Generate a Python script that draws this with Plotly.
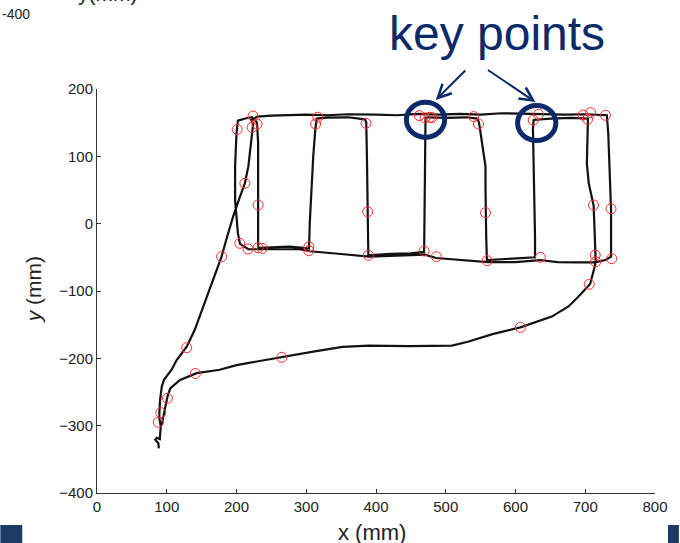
import plotly.graph_objects as go

# Recorded trajectory of the end effector (mm)
path_x = [
    88.6, 88.0, 83.5, 86.0, 90.0, 90.5, 91.4, 89.5, 89.4, 90.4, 92.9, 96.0, 100.0, 107.0,
    114.0, 121.0, 128.6, 140.0, 150.0, 157.0, 165.0, 171.4, 178.6, 185.0, 195.0, 205.0,
    212.0, 217.0, 220.0, 223.0, 224.0, 221.0,
    230.0, 250.0, 270.0, 300.0, 330.0, 360.0, 400.0, 430.0, 460.0, 490.0, 520.0, 550.0,
    580.0, 610.0, 640.0, 670.0, 700.0, 731.0,
    733.0, 734.0, 736.0, 737.0, 737.0, 737.0,
    729.0, 715.0, 690.0, 660.0, 635.0, 600.0, 560.0, 520.0, 486.0, 470.0, 430.0, 390.0,
    350.0, 305.0, 290.0, 260.0, 231.0, 217.0, 205.0,
    202.0, 198.0, 198.0, 200.0, 202.0,
    214.0, 222.0, 229.0,
    229.5, 231.0, 231.0, 231.0, 231.5, 231.0,
    250.0, 276.0, 295.0, 304.0,
    305.0, 307.0, 310.0, 313.0, 315.0,
    330.0, 360.0, 384.0, 386.0,
    387.0, 388.0, 388.0, 389.0, 389.0,
    420.0, 450.0, 469.0,
    469.5, 470.0, 470.5, 471.0, 475.0,
    500.0, 530.0, 545.0, 547.6,
    552.0, 557.0, 557.0, 557.0, 558.0, 559.0,
    590.0, 628.0,
    628.0, 627.0, 626.0, 625.0, 626.0,
    650.0, 680.0, 704.0,
    703.5, 702.3, 705.0, 712.0, 713.0, 714.0, 714.5, 715.0,
    713.0, 707.0, 690.0, 676.0, 652.0, 607.0, 567.0, 533.0, 509.0, 448.0, 390.0, 352.0,
    310.0, 265.0, 233.0, 200.0, 176.0, 143.0, 119.0, 105.0, 101.0, 97.6, 95.0, 92.9,
]
path_y = [
    -333.7, -326.0, -321.0, -318.0, -320.0, -310.0, -301.0, -290.0, -281.0, -262.0, -242.0,
    -232.0, -227.0, -217.0, -203.0, -193.0, -182.7, -158.0, -130.0, -108.5, -85.0, -68.8,
    -49.0, -25.0, 10.0, 40.0, 60.0, 85.0, 110.0, 134.0, 149.0, 154.0,
    159.0, 160.5, 161.5, 162.0, 161.0, 162.5, 162.0, 161.0, 163.0, 162.0, 163.0, 162.0,
    164.0, 163.0, 162.5, 162.0, 162.5, 161.0,
    134.0, 100.0, 60.0, 20.0, -20.0, -49.0,
    -54.0, -57.0, -57.5, -57.0, -54.0, -57.0, -57.0, -54.0, -51.0, -46.0, -47.0, -49.0,
    -45.0, -41.0, -38.0, -38.0, -38.0, -38.0, -30.0,
    -14.0, 35.0, 85.0, 134.0, 153.0,
    156.5, 158.0, 151.0,
    148.0, 120.0, 60.0, 28.0, 0.0, -36.0,
    -35.0, -34.0, -36.0, -37.0,
    0.0, 50.0, 100.0, 140.0, 156.0,
    157.5, 158.0, 155.0, 151.0,
    100.0, 50.0, 18.0, -20.0, -47.0,
    -45.0, -44.0, -42.0,
    0.0, 60.0, 120.0, 157.0, 158.0,
    157.0, 158.0, 156.0, 151.0,
    120.0, 85.0, 50.0, 16.0, -20.0, -54.0,
    -52.0, -50.0,
    -20.0, 50.0, 100.0, 140.0, 154.0,
    156.0, 157.0, 156.0,
    140.0, 89.6, 60.0, 27.0, 0.0, -30.0, -49.0, -57.0,
    -66.0, -89.6, -108.5, -123.0, -138.0, -154.0, -164.0, -175.0, -181.0, -182.0, -181.0,
    -183.0, -190.0, -198.5, -203.5, -210.0, -217.0, -222.0, -232.0, -244.5, -257.0, -272.0,
    -287.0, -299.0,
]

# Detected key points (mm)
key_x = [
    223.7, 201.0, 222.4, 229.4, 316.6, 313.3, 385.7, 212.0, 231.0, 388.0, 204.7, 216.6,
    230.9, 237.0, 303.7, 303.7, 389.0, 178.6, 462.0, 470.4, 477.0, 480.0, 540.0, 547.0,
    557.0, 469.0, 486.6, 559.4, 633.0, 625.4, 635.7, 697.0, 707.6, 703.3, 729.0, 711.9,
    737.0, 714.3, 715.0, 738.0, 705.7, 607.0, 265.0, 128.6, 141.0, 100.9, 91.4, 88.0,
]
key_y = [
    159.9, 140.0, 143.0, 148.0, 158.0, 148.0, 149.0, 60.0, 27.7, 17.8, -29.2, -37.6,
    -35.7, -36.6, -34.2, -40.2, -47.0, -49.0, 160.5, 157.1, 158.0, 157.6, 159.0, 148.0,
    16.3, -40.6, -49.0, -55.0, 162.4, 153.9, -50.0, 161.4, 164.8, 155.0, 160.9, 27.7,
    22.2, -46.6, -56.5, -52.0, -90.0, -154.0, -198.5, -184.2, -222.5, -259.4, -280.8, -295.0,
]

x_ticks = [0, 100, 200, 300, 400, 500, 600, 700, 800]
y_ticks = [-400, -300, -200, -100, 0, 100, 200]

W, H = 680, 543
L, R, T, B = 97, 23, 89, 50
PW, PH = W - L - R, H - T - B
NAVY = "#0c2a6a"
FONT = "Liberation Sans, Arial, Helvetica, sans-serif"


def px(x):
    return (x - L) / PW


def py(y):
    return (H - B - y) / PH


fig = go.Figure()
fig.add_trace(go.Scatter(
    x=path_x, y=path_y, mode="lines",
    line=dict(color="#111111", width=2.2),
    showlegend=False, hoverinfo="skip",
))
fig.add_trace(go.Scatter(
    x=key_x, y=key_y, mode="markers",
    marker=dict(symbol="circle-open", size=10, color="rgb(255,45,45)",
                line=dict(width=1, color="rgb(255,45,45)")),
    showlegend=False,
))

axis_common = dict(
    showgrid=False, zeroline=False, showline=True, linecolor="#333333", linewidth=1,
    ticks="inside", ticklen=4, tickcolor="#333333", mirror=False,
    tickfont=dict(family=FONT, size=15, color="#222222"),
)
fig.update_xaxes(range=[0, 800], tickvals=x_ticks, **axis_common)
fig.update_yaxes(range=[-400, 200], tickvals=y_ticks, **axis_common)


def label(text, x, y, size, color="#222222", xanchor="center", yanchor="middle", **kw):
    return dict(text=text, x=px(x), y=py(y), xref="paper", yref="paper",
                xanchor=xanchor, yanchor=yanchor, showarrow=False,
                font=dict(family=FONT, size=size, color=color), **kw)


annotations = [
    label("x (mm)", 373, 532, 22),
    label("<i>y</i> (mm)", 33, 290, 21, textangle=-90),
    label("-400", 0, 14, 14, xanchor="left"),
    label("y(mm)", 76, 7, 21, xanchor="left", yanchor="bottom"),
    label("key points", 498, 33, 48, color=NAVY),
    dict(text="", x=px(437), y=py(100), xref="paper", yref="paper",
         ax=31, ay=-31, showarrow=True, arrowhead=5, arrowsize=1.3, arrowwidth=2,
         arrowcolor=NAVY),
    dict(text="", x=px(537), y=py(102), xref="paper", yref="paper",
         ax=-49, ay=-33, showarrow=True, arrowhead=5, arrowsize=1.3, arrowwidth=2,
         arrowcolor=NAVY),
]

shapes = [
    dict(type="circle", xref="paper", yref="paper",
         x0=px(426.7 - 19.2), x1=px(426.7 + 19.2), y0=py(119.7 + 17.5), y1=py(119.7 - 17.5),
         line=dict(color=NAVY, width=5)),
    dict(type="circle", xref="paper", yref="paper",
         x0=px(538.3 - 19.2), x1=px(538.3 + 19.2), y0=py(123 + 17.5), y1=py(123 - 17.5),
         line=dict(color=NAVY, width=5)),
    dict(type="rect", xref="paper", yref="paper", x0=px(0), x1=px(22), y0=py(543), y1=py(525),
         fillcolor="#1b3a66", line=dict(width=0)),
    dict(type="rect", xref="paper", yref="paper", x0=px(670), x1=px(681), y0=py(543), y1=py(525),
         fillcolor="#1b3a66", line=dict(width=0)),
]

fig.update_layout(
    width=W, height=H,
    margin=dict(l=L, r=R, t=T, b=B),
    paper_bgcolor="white", plot_bgcolor="white",
    annotations=annotations, shapes=shapes,
    font=dict(family=FONT),
)

fig.write_html("out.html")
